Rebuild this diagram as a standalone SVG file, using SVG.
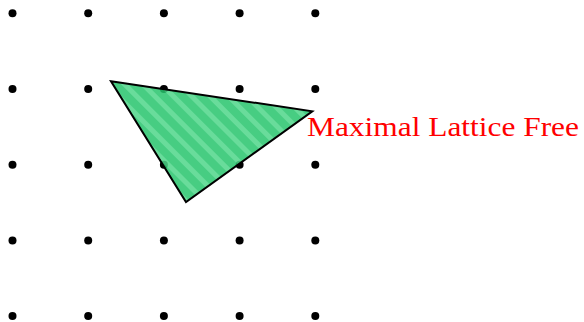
<svg xmlns="http://www.w3.org/2000/svg" width="584" height="322" viewBox="0 0 584 322">
<style>
.dot{fill:#000}
.lbl{font-family:"Liberation Serif","DejaVu Serif",serif;font-size:28px;fill:#ff0000}
</style>
<defs>
<pattern id="hatch" patternUnits="userSpaceOnUse" width="13" height="13" patternTransform="rotate(-45)">
<rect width="13" height="13" fill="#27c46c"/>
<rect width="5" height="13" fill="#4fd68a"/>
</pattern>
</defs>
<g id="lattice">
<circle class="dot" cx="12.5" cy="13.3" r="4"/><circle class="dot" cx="88.2" cy="13.3" r="4"/><circle class="dot" cx="163.9" cy="13.3" r="4"/><circle class="dot" cx="239.6" cy="13.3" r="4"/><circle class="dot" cx="315.3" cy="13.3" r="4"/>
<circle class="dot" cx="12.5" cy="89" r="4"/><circle class="dot" cx="88.2" cy="89" r="4"/><circle class="dot" cx="163.9" cy="89" r="4"/><circle class="dot" cx="239.6" cy="89" r="4"/><circle class="dot" cx="315.3" cy="89" r="4"/>
<circle class="dot" cx="12.5" cy="164.7" r="4"/><circle class="dot" cx="88.2" cy="164.7" r="4"/><circle class="dot" cx="163.9" cy="164.7" r="4"/><circle class="dot" cx="239.6" cy="164.7" r="4"/><circle class="dot" cx="315.3" cy="164.7" r="4"/>
<circle class="dot" cx="12.5" cy="240.4" r="4"/><circle class="dot" cx="88.2" cy="240.4" r="4"/><circle class="dot" cx="163.9" cy="240.4" r="4"/><circle class="dot" cx="239.6" cy="240.4" r="4"/><circle class="dot" cx="315.3" cy="240.4" r="4"/>
<circle class="dot" cx="12.5" cy="316.1" r="4"/><circle class="dot" cx="88.2" cy="316.1" r="4"/><circle class="dot" cx="163.9" cy="316.1" r="4"/><circle class="dot" cx="239.6" cy="316.1" r="4"/><circle class="dot" cx="315.3" cy="316.1" r="4"/>
</g>
<g id="triangle">
<polygon points="111,81.3 312.3,111.3 186,202" fill="url(#hatch)" fill-opacity="0.85" stroke="#000" stroke-width="2" stroke-linejoin="miter"/>
</g>
<g id="label">
<text class="lbl" x="307" y="136" textLength="272" lengthAdjust="spacingAndGlyphs">Maximal Lattice Free</text>
</g>
</svg>
